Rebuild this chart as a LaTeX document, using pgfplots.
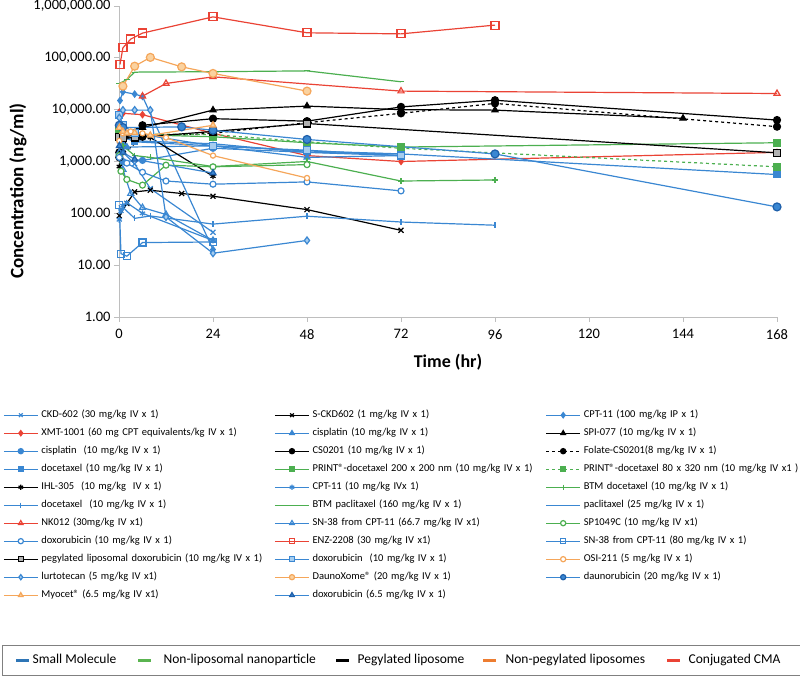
\documentclass[border=0pt]{standalone}
\usepackage{fontspec}
\setmainfont{Carlito}
\usepackage{pgfplots}
\pgfplotsset{compat=1.18}
\definecolor{cblue}{RGB}{58,135,210}
\definecolor{cdblue}{RGB}{30,95,170}
\definecolor{clight}{RGB}{165,205,240}
\definecolor{cgreen}{RGB}{76,175,80}
\definecolor{corange}{RGB}{245,166,90}
\definecolor{clorange}{RGB}{250,210,160}
\definecolor{cred}{RGB}{234,67,53}
\definecolor{caxis}{RGB}{190,190,190}
\definecolor{sblue}{RGB}{46,117,182}
\definecolor{sgreen}{RGB}{90,180,80}
\definecolor{sorange}{RGB}{237,125,49}
\begin{document}
\begin{tikzpicture}
% category key in a box at the bottom
\begin{axis}[
    at={(0pt,0pt)}, anchor=south west,
    width=800pt, height=677pt, scale only axis,
    hide axis, xmin=0, xmax=1, ymin=0, ymax=1,
    legend columns=5,
    legend image code/.code={\draw[line width=3pt] (0pt,0pt) -- (13pt,0pt);},
    legend style={at={(0.0025,0.0015)}, anchor=south west,
        draw=gray, line width=1.2pt, fill=white,
        inner xsep=12pt, inner ysep=6.5pt, column sep=0pt,
        font=\fontsize{13.5}{15}\selectfont,
        nodes={inner xsep=2pt, inner ysep=2pt, text height=10pt, text depth=3pt}},
    legend cell align=left,
]
\addlegendimage{sblue}
\addlegendentry{\makebox[102pt][l]{Small Molecule}}
\addlegendimage{sgreen}
\addlegendentry{\makebox[178pt][l]{\hspace{9pt}Non-liposomal nanoparticle}}
\addlegendimage{black}
\addlegendentry{\makebox[127pt][l]{\hspace{5pt}Pegylated liposome}}
\addlegendimage{sorange}
\addlegendentry{\makebox[164pt][l]{\hspace{6pt}Non-pegylated liposomes}}
\addlegendimage{cred}
\addlegendentry{\makebox[115pt][l]{\hspace{5pt}Conjugated CMA}}
\end{axis}

\begin{axis}[
    at={(119pt,360pt)}, anchor=south west,
    width=658pt, height=311pt, scale only axis,
    ymode=log,
    xmin=0, xmax=168, ymin=1, ymax=1000000,
    axis lines=left,
    axis line style={-, draw=caxis, line width=0.8pt},
    tick style={draw=caxis, line width=0.8pt},
    tick align=outside, major tick length=5pt,
    yminorticks=false,
    xtick={0,24,48,72,96,120,144,168},
    xticklabels={0,24,48,72,96,120,144,168},
    ytick={1,10,100,1000,10000,100000,1000000},
    yticklabels={{1.00},{10.00},{100.00},{1,000.00},{10,000.00},{100,000.00},{1,000,000.00}},
    tick label style={font=\fontsize{14.5}{16}\selectfont},
    xticklabel style={yshift=-4pt},
    xlabel={\textbf{Time (hr)}},
    ylabel={\textbf{Concentration (ng/ml)}},
    label style={font=\fontsize{18}{20}\selectfont},
    xlabel style={at={(axis description cs:0.5,0)}, anchor=center, yshift=-45pt},
    ylabel style={at={(axis description cs:-0.1535,0.405)}, anchor=center, font=\fontsize{19}{21}\selectfont},
    clip=false,
    every axis plot/.append style={line width=1.2pt, mark size=3pt},
    legend columns=3,
    legend cell align=left,
    legend image code/.code={\draw[mark repeat=2,mark phase=2,mark size=2.6pt] plot coordinates {(0pt,0pt) (17pt,0pt) (34pt,0pt)};},
    legend style={at={(-0.1763,-0.2990)}, anchor=north west,
        draw=none, fill=none, inner sep=0pt, row sep=8pt, column sep=0pt,
        /tikz/every even column/.append style={column sep=2pt},
        font=\fontsize{10.5}{12}\selectfont,
        nodes={inner xsep=3pt, inner ysep=0pt, text height=7.5pt, text depth=2.5pt, text width=228pt, align=left}},
]
% row 1
\addplot[cblue, mark=x, mark size=3.5pt] coordinates {(0.083,2500) (1,1500) (4,900) (8,300) (24,43)};
\addlegendentry{CKD-602 (30 mg/kg IV x 1)}
\addplot[black, mark=x, mark size=3.5pt] coordinates {(0.083,90) (2,155) (4,259) (8,279) (16,241) (24,214) (48,118) (72,47)};
\addlegendentry{S-CKD602 (1 mg/kg IV x 1)}
\addplot[cblue, mark=diamond*] coordinates {(0.25,15000) (1,22000) (4,20000) (6,18000) (24,20)};
\addlegendentry{CPT-11 (100 mg/kg IP x 1)}
% row 2
\addplot[cred, mark=diamond*] coordinates {(0.083,9000) (1,8500) (6,8000) (24,3500) (48,1300) (72,1000) (168,1500)};
\addlegendentry{XMT-1001 (60 mg CPT equivalents/kg IV x 1)}
\addplot[cblue, mark=triangle*, mark size=3.5pt] coordinates {(0.083,2800) (1,2200) (2,1900) (24,2000) (48,1200) (72,1300)};
\addlegendentry{cisplatin (10 mg/kg IV x 1)}
\addplot[black, mark=triangle*, mark size=3.5pt] coordinates {(0.083,3000) (1,3500) (6,4500) (24,9800) (48,11700) (72,10000) (96,9800) (144,6800)};
\addlegendentry{SPI-077 (10 mg/kg IV x 1)}
% row 3
\addplot[cblue, mark=*] coordinates {(0.083,1300) (1,1000) (6,1050) (24,1800) (48,1500) (72,1300)};
\addlegendentry{cisplatin \ (10 mg/kg IV x 1)}
\addplot[black, mark=*, mark size=3.5pt] coordinates {(0.083,1500) (1,3000) (6,5000) (24,6700) (48,6000) (72,11300) (96,15200) (168,6300)};
\addlegendentry{CS0201 (10 mg/kg IV x 1)}
\addplot[black, dashed, mark=*, mark size=3.5pt, mark options={solid}] coordinates {(0.083,1200) (6,3000) (24,3500) (48,5600) (72,8500) (96,13200) (168,4700)};
\addlegendentry{Folate-CS0201(8 mg/kg IV x 1)}
% row 4
\addplot[cblue, mark=square*] coordinates {(0.083,4500) (1,3000) (4,2400) (24,2000) (48,1600) (72,1400) (168,560)};
\addlegendentry{docetaxel (10 mg/kg IV x 1)}
\addplot[cgreen, mark=square*, mark size=3.5pt] coordinates {(0.083,4500) (1,4000) (4,3300) (24,3000) (48,2300) (72,1900) (168,2300)};
\addlegendentry{PRINT®-docetaxel 200 x 200 nm (10 mg/kg IV x 1)}
\addplot[cgreen, dashed, mark=square*, mark size=3.5pt, mark options={solid}] coordinates {(0.083,3800) (1,3500) (4,3400) (24,3300) (48,2400) (72,1800) (168,790)};
\addlegendentry{PRINT®-docetaxel 80 x 320 nm (10 mg/kg IV x1 )}
% row 5
\addplot[black, mark=asterisk] coordinates {(0.083,800) (1,1500) (2,3000) (4,3300) (8,2900) (24,520)};
\addlegendentry{IHL-305 \ (10 mg/kg \ IV x 1)}
\addplot[cblue, mark=asterisk] coordinates {(0.083,75) (0.5,110) (1,140) (2,160) (6,100) (24,30)};
\addlegendentry{CPT-11 (10 mg/kg IVx 1)}
\addplot[cgreen, mark=+] coordinates {(0.083,3000) (1,2000) (4,1300) (8,1200) (24,800) (48,1000) (72,420) (96,440)};
\addlegendentry{BTM docetaxel (10 mg/kg IV x 1)}
% row 6
\addplot[cblue, mark=|] coordinates {(0.083,110) (1,130) (4,80) (8,89) (24,62) (48,88) (72,68) (96,59)};
\addlegendentry{docetaxel \ (10 mg/kg IV x 1)}
\addplot[cgreen, mark=-] coordinates {(0.083,32000) (2,38000) (4,53000) (24,54000) (48,56000) (72,34500)};
\addlegendentry{BTM paclitaxel (160 mg/kg IV x 1)}
\addplot[cblue] coordinates {(0.083,4800) (1,3500) (4,2500) (24,2200) (48,1500) (72,1400)};
\addlegendentry{paclitaxel (25 mg/kg IV x 1)}
% row 7
\addplot[cred, mark=triangle, mark size=3.5pt, mark options={fill=white}] coordinates {(6,18200) (12,32000) (24,43000) (72,22800) (168,20500)};
\addlegendentry{NK012 (30mg/kg IV x1)}
\addplot[cblue, mark=triangle, mark size=3.5pt, mark options={fill=white}] coordinates {(0.083,1500) (1,700) (3,240) (6,129) (12,95) (24,30)};
\addlegendentry{SN-38 from CPT-11 (66.7 mg/kg IV x1)}
\addplot[cgreen, mark=*, mark options={fill=white}] coordinates {(0.083,1300) (0.5,650) (2,450) (6,350) (12,850) (24,790) (48,870)};
\addlegendentry{SP1049C (10 mg/kg IV x1)}
% row 8
\addplot[cblue, mark=*, mark options={fill=white}] coordinates {(0.083,1200) (2,930) (6,620) (12,420) (24,365) (48,404) (72,271)};
\addlegendentry{doxorubicin (10 mg/kg IV x 1)}
\addplot[cred, mark=square, mark size=4pt, mark options={fill=white}] coordinates {(0.25,74600) (1,156000) (3,230000) (6,300000) (24,617000) (48,304000) (72,290000) (96,428000)};
\addlegendentry{ENZ-2208 (30 mg/kg IV x1)}
\addplot[cblue, mark=square, mark size=3.5pt, mark options={fill=white}] coordinates {(0.083,144) (0.5,16.7) (2,14.9) (6,27.3) (24,28)};
\addlegendentry{SN-38 from CPT-11 (80 mg/kg IV x 1)}
% row 9
\addplot[black, mark=square*, mark size=3.5pt, mark options={fill=gray!60, draw=black}] coordinates {(0.083,3000) (1,2800) (4,2900) (24,3800) (48,5400) (168,1470)};
\addlegendentry{pegylated liposomal doxorubicin (10 mg/kg IV x 1)}
\addplot[cblue, mark=square*, mark size=3.5pt, mark options={fill=clight, draw=cblue}] coordinates {(0.083,8000) (1,5000) (4,3500) (24,2000) (48,1650) (72,1300)};
\addlegendentry{doxorubicin \ (10 mg/kg IV x 1)}
\addplot[corange, mark=*, mark size=2.6pt, mark options={fill=white}] coordinates {(0.083,2500) (1,3500) (3,3800) (6,3500) (12,2900) (24,1300) (48,480)};
\addlegendentry{OSI-211 (5 mg/kg IV x 1)}
% row 10
\addplot[cblue, mark=diamond*, mark size=3.5pt, mark options={fill=clight, draw=cblue}] coordinates {(0.083,7000) (1,9800) (4,9800) (8,9800) (12,85) (24,17) (48,30)};
\addlegendentry{lurtotecan (5 mg/kg IV x1)}
\addplot[corange, mark=*, mark size=4pt, mark options={fill=clorange}] coordinates {(1,28400) (4,69000) (8,102000) (16,67000) (24,50000) (48,22800)};
\addlegendentry{DaunoXome® (20 mg/kg IV x 1)}
\addplot[cblue, mark=*, mark size=4pt, mark options={fill=cblue, draw=cdblue}] coordinates {(0.083,5000) (1,4500) (16,4660) (24,4000) (48,2660) (96,1400) (168,133)};
\addlegendentry{daunorubicin (20 mg/kg IV x 1)}
% row 11
\addplot[corange, mark=triangle*, mark size=3.5pt, mark options={fill=clorange}] coordinates {(0.083,4500) (1,3800) (2,3500) (4,3600) (8,3200) (24,5000)};
\addlegendentry{Myocet® (6.5 mg/kg IV x1)}
\addplot[cblue, mark=triangle*, mark size=3.5pt, mark options={fill=cblue, draw=cdblue}] coordinates {(0.083,2000) (1,1500) (4,1100) (24,600)};
\addlegendentry{doxorubicin (6.5 mg/kg IV x 1)}
\end{axis}
\pgfresetboundingbox
\useasboundingbox (0pt,0pt) rectangle (800pt,677pt);
\end{tikzpicture}
\end{document}
